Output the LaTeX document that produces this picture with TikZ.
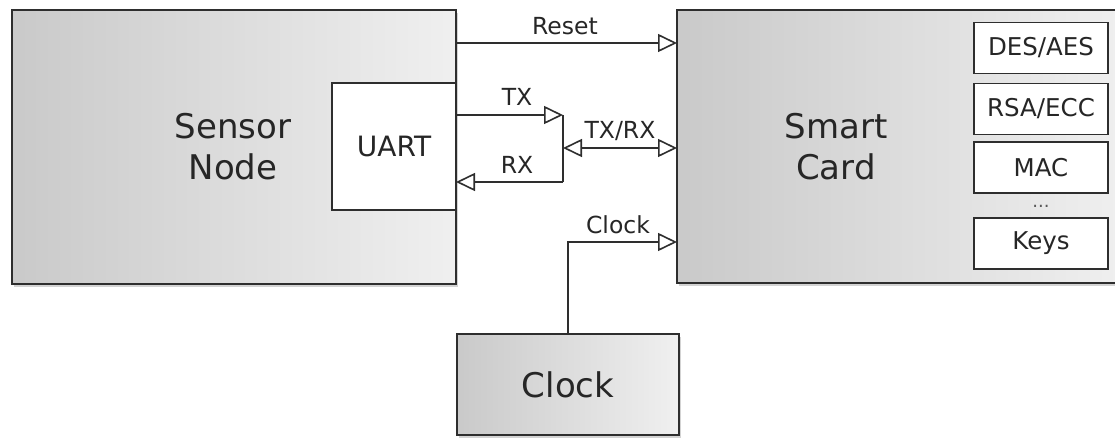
\documentclass[tikz,border=0pt]{standalone}
\usepackage{fontspec}
\setmainfont{DejaVu Sans}
\usetikzlibrary{arrows.meta,shadows}
\definecolor{ink}{HTML}{2E2E2E}
\definecolor{txt}{HTML}{262626}
\tikzset{
  bigbox/.style={draw=ink, line width=2pt, left color=black!21, right color=black!6,
    drop shadow={shadow xshift=2pt, shadow yshift=-3pt, opacity=0.35}, inner sep=0pt},
  subbox/.style={draw=ink, line width=1.6pt, fill=white, inner sep=0pt, text=txt},
  bigtxt/.style={text=txt, font=\fontsize{34}{40}\selectfont, inner sep=0pt, anchor=base},
  lbl/.style={text=txt, font=\fontsize{23.5}{26}\selectfont, inner sep=0pt},
  wire/.style={draw=ink, line width=1.8pt},
  tri/.style={Triangle[length=19pt,width=18pt,fill=white,line width=1.6pt]},
  tip/.style={-{Triangle[length=19pt,width=18pt,fill=white,line width=1.6pt]}},
  bitip/.style={{Triangle[length=19pt,width=18pt,fill=white,line width=1.6pt]}-{Triangle[length=19pt,width=18pt,fill=white,line width=1.6pt]}},
}
\begin{document}
\begin{tikzpicture}[x=1pt,y=-1pt]
\useasboundingbox (0,0) rectangle (1115,438);
% main blocks
\node[bigbox, minimum width=444pt, minimum height=274pt] (sn) at (234,147) {};
\node[bigtxt] (sntxta) at (233,139) {Sensor};
\node[bigtxt] (sntxtb) at (233,180) {Node};
\node[subbox, minimum width=124pt, minimum height=127pt, font=\fontsize{28}{32}\selectfont] (uart) at (394,146.5) {UART};
\node[bigbox, minimum width=450pt, minimum height=273pt] (sc) at (902,146.5) {};
\node[bigtxt] (sctxta) at (836,139) {Smart};
\node[bigtxt] (sctxtb) at (836,180) {Card};
\node[bigbox, minimum width=222pt, minimum height=101pt] (clk) at (568,384.5) {};
\node[bigtxt] (clktxt) at (568,397) {Clock};
% crypto sub-blocks
\tikzset{crypt/.style={subbox, minimum width=134pt, minimum height=51pt, font=\fontsize{24.5}{28}\selectfont}}
\node[crypt] (des) at (1041,48) {DES/AES};
\node[crypt] (rsa) at (1041,109) {RSA/ECC};
\node[crypt] (mac) at (1041,167.5) {MAC};
\node[text=black!65, font=\fontsize{18}{20}\selectfont, inner sep=0pt] (dots) at (1041,206) {...};
\node[crypt] (keys) at (1041,243.5) {Keys};
% ports
\coordinate (rsto) at (456,43);
\coordinate (rsti) at (677,43);
\coordinate (txo) at (456,115);
\coordinate (jtop) at (563,115);
\coordinate (jmid) at (563,148);
\coordinate (jbot) at (563,182);
\coordinate (rxi) at (456,182);
\coordinate (trxi) at (677,148);
\coordinate (clki) at (677,242);
% connectors
\draw[wire, tip] (rsto) -- (rsti);
\draw[wire, tip] (txo) -- (jtop);
\draw[wire] (jtop) -- (jbot);
\draw[wire, tip] (jbot) -- (rxi);
\draw[wire, bitip] (jmid) -- (trxi);
\draw[wire, tip] (clk.north) |- (clki);
% labels
\node[lbl] (lrst) at (565,26) {Reset};
\node[lbl] (ltx) at (517,97) {TX};
\node[lbl] (lrx) at (517,165) {RX};
\node[lbl] (ltrx) at (620,131) {TX/RX};
\node[lbl] (lclk) at (618,225) {Clock};
\end{tikzpicture}
\end{document}
